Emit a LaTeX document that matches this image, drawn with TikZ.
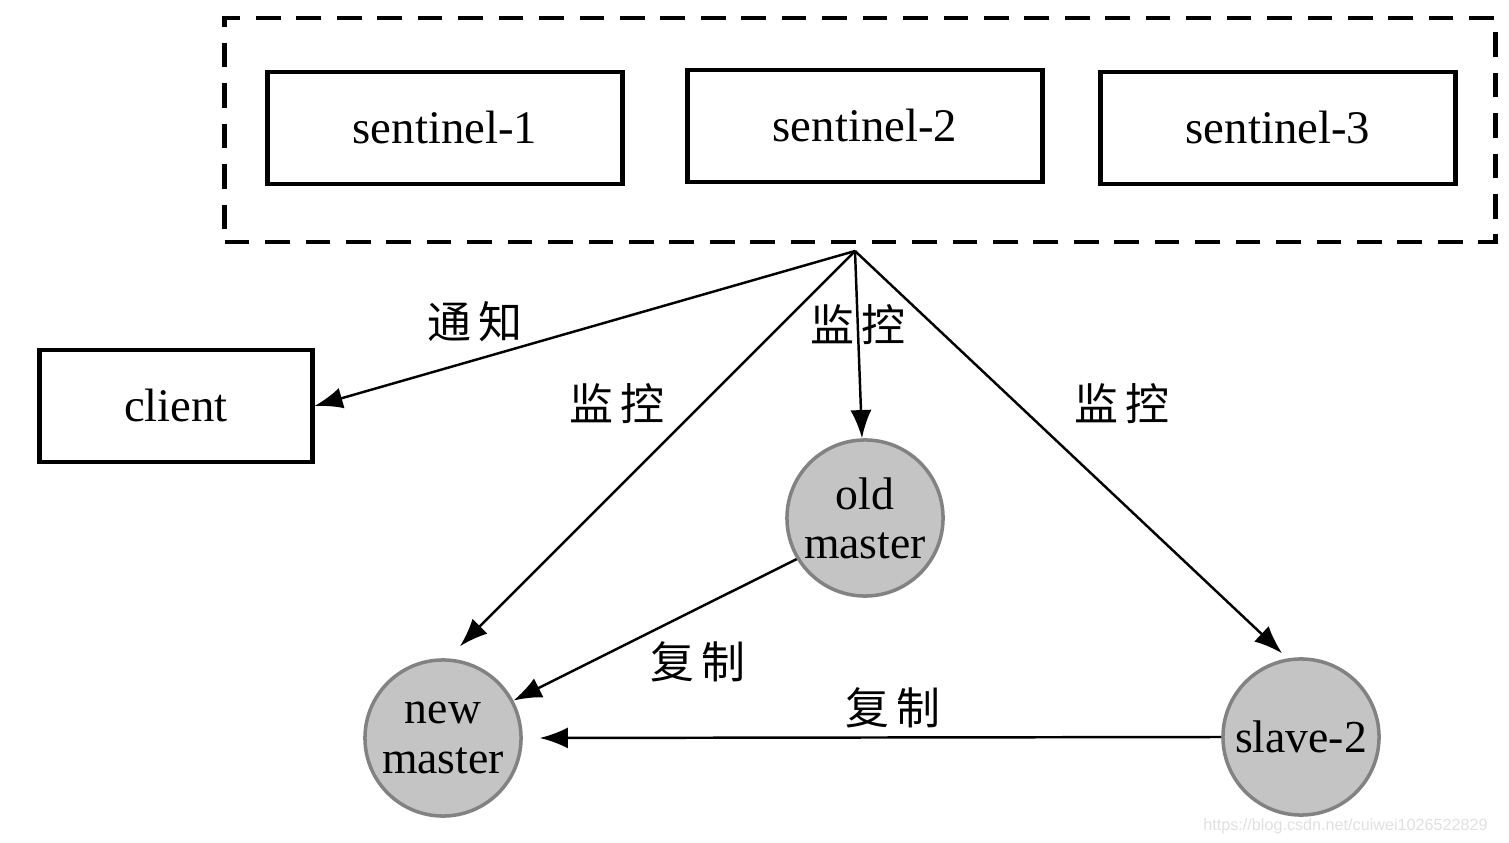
\documentclass[tikz,border=0pt]{standalone}
\usepackage{fontspec}
\setmainfont{Liberation Serif}
\setsansfont{Liberation Sans}
\newfontfamily\cjk{Noto Sans CJK SC}
\usepackage{xcolor}
\usepackage{tikz}
\usetikzlibrary{arrows.meta}
\definecolor{nodegray}{RGB}{196,196,196}
\definecolor{rimgray}{RGB}{130,130,130}
\tikzset{
	sbox/.style={draw, line width=1.4pt, minimum width=3.54cm, minimum height=1.12cm, font=\fontsize{13.3}{15}\selectfont},
	srv/.style={circle, draw=rimgray, line width=1pt, fill=nodegray, minimum size=1.56cm, inner sep=0pt, align=center, font=\fontsize{13}{14}\selectfont},
	arr/.style={line width=0.7pt, -{Latex[length=8pt,width=6pt]}},
	lbl/.style={font=\cjk\fontsize{12.5}{14}\selectfont}
}
\begin{document}
\begin{tikzpicture}[x=0.01cm, y=-0.01cm]
			\useasboundingbox (0,0) rectangle (1509,843);
			% Nhóm sentinel
			\node (group) [draw, line width=1.3pt, dash pattern=on 7pt off 4.5pt, minimum width=12.7cm, minimum height=2.24cm] at (860,130) {};
			\node (s1) [sbox] at (445,128) {sentinel-1};
			\node (s2) [sbox] at (865,126) {sentinel-2};
			\node (s3) [sbox] at (1278,128) {sentinel-3};
			\coordinate (apex) at (855,251);
			% Client và các server
			\node (client) [sbox, minimum width=2.72cm] at (176,406) {client};
			\node (old) [srv] at (865,518) {old\\master};
			\node (new) [srv] at (443,738) {new\\master};
			\node (slave) [srv] at (1301,737) {slave-2};
			% Mũi tên
			\draw [arr] (apex) -- (client.east);
			\draw [arr] (apex) -- ([xshift=-0.03cm]old.north);
			\draw [arr] (apex) -- ([shift={(17,-12)}]new.north);
			\draw [arr] (apex) -- ([shift={(-19,-4)}]slave.north);
			\draw [arr] (old.211) -- (new.28);
			\draw [arr, shorten >=0.17cm] (slave.west) -- (new.east);
			% Nhãn
			\node (tz) [lbl] at (475,322) {通\,知};
			\node (jk1) [lbl] at (858,325) {监\,控};
			\node (jk2) [lbl] at (617,404) {监\,控};
			\node (jk3) [lbl] at (1122,404) {监\,控};
			\node (fz1) [lbl] at (698,662) {复\,制};
			\node (fz2) [lbl] at (893,708) {复\,制};
			\node (wm) [text=black!12, font=\sffamily\fontsize{4.6}{5}\selectfont, anchor=east] at (1500,826) {https://blog.csdn.net/cuiwei1026522829};
		\end{tikzpicture}
\end{document}
